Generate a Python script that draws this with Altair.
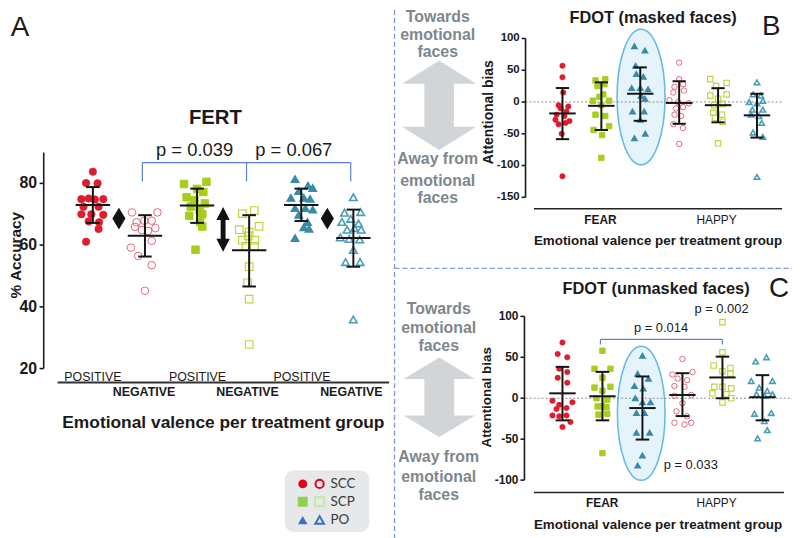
import altair as alt
import pandas as pd

# ------------------------------------------------------------------ data
# group keys: f = filled marker (POSITIVE / FEAR), o = open marker (NEGATIVE / HAPPY)
KINDS = ["SCC_f", "SCC_o", "SCP_f", "SCP_o", "PO_f", "PO_o"]
ORDER_A = ["SCC_f", "SCC_o", "SCP_f", "SCP_o", "PO_f", "PO_o"]
ORDER_BC = ["SCC_f", "SCP_f", "PO_f", "SCC_o", "SCP_o", "PO_o"]

# Panel A  FERT  (% accuracy)   -> (jitter, value)
A_SCC_F = [(0.00, 83.8), (-0.13, 80.1), (0.09, 80.0), (-0.22, 74.9), (-0.08, 75.1), (0.04, 74.8),
           (0.20, 74.9), (-0.18, 72.4), (0.11, 72.4), (-0.22, 70.0), (-0.03, 70.0), (0.20, 69.8),
           (-0.08, 67.7), (0.12, 67.4), (0.11, 65.2), (-0.13, 61.1)]
A_SCC_O = [(-0.25, 70.6), (0.24, 70.6), (-0.16, 67.4), (-0.01, 67.9), (0.13, 67.9), (-0.19, 65.9),
           (-0.06, 64.9), (0.06, 64.6), (0.20, 65.5), (-0.27, 59.2), (0.13, 61.4), (-0.13, 56.5),
           (0.13, 53.5), (0.00, 45.2)]
A_SCP_F = [(-0.25, 79.8), (0.18, 80.5), (0.00, 78.2), (0.12, 77.2), (-0.20, 75.5), (-0.05, 74.5),
           (0.15, 73.5), (-0.12, 72.5), (0.05, 71.5), (0.10, 70.0), (-0.15, 69.5), (0.06, 67.5),
           (0.10, 66.0), (-0.03, 58.5)]
A_SCP_O = [(-0.13, 70.2), (0.10, 71.2), (-0.19, 65.0), (0.00, 64.2), (0.19, 66.1), (-0.13, 61.6),
           (0.11, 61.6), (-0.06, 59.6), (0.10, 59.6), (-0.02, 63.0), (0.00, 53.0), (-0.03, 47.8),
           (0.00, 42.5), (0.00, 27.8)]
A_PO_F = [(-0.12, 81.4), (0.13, 79.3), (0.22, 78.5), (-0.05, 77.5), (-0.20, 75.3), (0.05, 75.3),
          (0.17, 75.0), (-0.12, 72.0), (0.08, 72.0), (0.22, 71.5), (-0.05, 69.8), (0.12, 67.5),
          (0.05, 65.8), (0.15, 65.3), (-0.12, 62.3)]
A_PO_O = [(0.00, 75.5), (-0.17, 70.5), (0.14, 70.7), (-0.05, 68.5), (-0.22, 67.5), (0.10, 67.0),
          (-0.12, 65.0), (0.02, 65.5), (0.15, 65.0), (-0.25, 62.5), (-0.08, 62.0), (0.12, 61.8),
          (0.00, 58.4), (-0.15, 54.5), (0.13, 54.5), (0.00, 35.9)]
A_MEAN = [73.0, 63.0, 72.8, 58.3, 73.0, 62.3]
A_HI = [78.8, 69.7, 78.3, 69.7, 78.3, 71.5]
A_LO = [67.2, 56.3, 67.2, 46.6, 67.8, 53.0]
A_TICKS = [20, 40, 60, 80]

# Panel B  FDOT masked (attentional bias)
B_SCC_F = [(0.00, 57), (0.00, 39), (0.02, 15), (-0.10, -5), (0.15, -7), (-0.05, -10), (0.10, -15),
           (-0.15, -20), (0.05, -22), (-0.18, -28), (0.18, -30), (-0.10, -35), (0.08, -33),
           (-0.02, -50), (0.00, -117)]
B_SCP_F = [(-0.15, 34), (0.10, 36), (-0.10, 25), (0.08, 28), (0.05, 12), (-0.05, 8), (-0.22, 2),
           (0.20, 2), (0.00, -5), (-0.15, -20), (0.10, -22), (0.20, -38), (-0.20, -44), (0.02, -52),
           (0.00, -88)]
B_PO_F = [(-0.15, 88), (0.12, 81), (-0.12, 57), (-0.10, 44), (0.08, 40), (-0.22, 22), (0.00, 22),
          (0.20, 20), (0.02, 10), (0.12, 5), (-0.20, -15), (0.10, -15), (0.00, -28), (-0.15, -57),
          (0.13, -50)]
B_SCC_O = [(0.00, 62), (0.00, 36), (-0.12, 24), (0.10, 28), (-0.15, 15), (0.12, 18), (-0.25, 3),
           (-0.03, 0), (0.25, -2), (-0.08, -10), (0.10, -8), (-0.12, -20), (0.05, -22), (-0.15, -35),
           (0.10, -41), (0.00, -66)]
B_SCP_O = [(-0.20, 36), (0.22, 30), (-0.05, 25), (-0.20, 10), (0.22, 12), (0.00, 5), (-0.10, -5),
           (0.12, -3), (-0.12, -17), (0.10, -20), (-0.08, -25), (0.12, -31), (0.00, -65)]
B_PO_O = [(0.00, 31), (-0.10, 12), (0.10, 10), (-0.20, 0), (0.15, 2), (0.00, -2), (-0.12, -12),
          (0.15, -12), (-0.15, -20), (0.05, -22), (0.12, -33), (-0.10, -48), (0.15, -55), (0.00, -118)]
B_MEAN = [-18, -6, 13, -1.5, -5, -21]
B_HI = [22, 31, 54.5, 32.7, 21.8, 13]
B_LO = [-58.5, -44, -29.6, -34.3, -32, -56]
B_TICKS = [100, 50, 0, -50, -100, -150]

# Panel C  FDOT unmasked (attentional bias)
C_SCC_F = [(0.00, 68), (-0.12, 54), (0.12, 50), (-0.08, 36), (0.12, 32), (-0.12, 25), (0.12, 19),
           (-0.25, -3), (-0.08, -8), (0.25, -5), (-0.15, -13), (0.10, -12), (-0.25, -21), (-0.08, -22),
           (0.10, -21), (0.20, -29), (0.00, -35)]
C_SCP_F = [(0.00, 58), (-0.20, 36), (0.20, 36), (0.00, 25), (-0.20, 13), (0.20, 14), (0.00, 9),
           (-0.15, 0), (0.12, -2), (-0.12, -10), (0.10, -11), (0.00, -10), (-0.10, -20), (0.12, -19),
           (0.00, -67)]
C_PO_F = [(0.00, 52), (-0.12, 30), (0.15, 24), (-0.20, 15), (0.02, 12), (-0.18, 0), (0.00, -5),
          (0.20, -5), (-0.15, -18), (0.05, -18), (-0.15, -42), (0.18, -42), (0.00, -70), (-0.12, -82)]
C_SCC_O = [(0.00, 48), (-0.25, 29), (0.25, 32), (-0.12, 24), (0.12, 22), (-0.20, 15), (0.05, 14),
           (0.22, 4), (-0.20, 3), (0.00, -6), (-0.15, -16), (0.12, -22), (-0.20, -30), (0.05, -32),
           (0.22, -30)]
C_SCP_O = [(0.00, 93), (0.00, 56), (-0.22, 40), (0.20, 37), (0.00, 33), (0.20, 30), (-0.20, 14),
           (0.00, 14), (0.22, 12), (-0.25, 6), (0.10, 5), (0.22, 0), (0.00, -5)]
C_PO_O = [(-0.17, 45), (0.10, 50), (-0.28, 21), (0.25, 21), (-0.08, 13), (0.12, 9), (-0.15, 5),
          (0.05, 3), (0.25, 5), (-0.20, -19), (0.22, -18), (0.05, -28), (0.12, -39), (-0.12, -49)]
C_MEAN = [6, 2.4, -12, 4, 25.4, 1.2]
C_HI = [38.3, 32.2, 26.6, 30.6, 50.8, 28.2]
C_LO = [-27, -27, -50.5, -21.8, 0, -27]
C_TICKS = [100, 50, 0, -50, -100]

# ------------------------------------------------------------------ layout / style
OFF = 8
FONT = "Liberation Sans"
INK = "#1a1a1a"
GEOM = {  # (domain0, domain1, range0, range1) in chart pixels
    "A": {"x": (-1, 6, 33.0, 400.5), "y": (20, 90, 361.3, 143.6)},
    "B": {"x": (-1, 6, 519.5, 793.9), "y": (-150, 100, 188.7, 28.7)},
    "C": {"x": (-1, 6, 518.4, 800.5), "y": (-100, 100, 473.7, 308.7)},
}

SHAPE = {"SCC_f": "circle", "SCC_o": "circle", "SCP_f": "square", "SCP_o": "square",
         "PO_f": "triangle-up", "PO_o": "triangle-up"}
FILL = {"SCC_f": "#dd1c2c", "SCC_o": "transparent", "SCP_f": "#a7cd1d", "SCP_o": "transparent",
        "PO_f": "#3a8ba5", "PO_o": "transparent"}
STROKE = {"SCC_f": "#dd1c2c", "SCC_o": "#d8304b", "SCP_f": "#a7cd1d", "SCP_o": "#bcd63c",
          "PO_f": "#3a8ba5", "PO_o": "#4a9db8"}
SW = {"SCC_f": 0.5, "SCC_o": 1.6, "SCP_f": 0.5, "SCP_o": 1.6, "PO_f": 0.5, "PO_o": 1.6}


def sc(p, ch):
    d0, d1, r0, r1 = GEOM[p][ch]
    return alt.Scale(domain=[d0, d1], range=[r0, r1], nice=False, zero=False)


def X(p, f):
    return alt.X(f"{f}:Q", scale=sc(p, "x"), axis=None)


def Y(p, f):
    return alt.Y(f"{f}:Q", scale=sc(p, "y"), axis=None)


def one(**kw):
    return pd.DataFrame({k: [v] for k, v in kw.items()})


def points(p, order, groups, sizes):
    rows = []
    for gi, (kind, pts) in enumerate(zip(order, groups)):
        for dx, v in pts:
            rows.append({"x": gi + dx, "v": v, "kind": kind})
    df = pd.DataFrame(rows)
    return alt.Chart(df).mark_point(filled=True, opacity=1, fillOpacity=1).encode(
        x=X(p, "x"), y=Y(p, "v"),
        shape=alt.Shape("kind:N", scale=alt.Scale(domain=KINDS, range=[SHAPE[k] for k in KINDS]), legend=None),
        fill=alt.Fill("kind:N", scale=alt.Scale(domain=KINDS, range=[FILL[k] for k in KINDS]), legend=None),
        stroke=alt.Stroke("kind:N", scale=alt.Scale(domain=KINDS, range=[STROKE[k] for k in KINDS]), legend=None),
        strokeWidth=alt.StrokeWidth("kind:N", scale=alt.Scale(domain=KINDS, range=[SW[k] for k in KINDS]), legend=None),
        size=alt.Size("kind:N", scale=alt.Scale(domain=KINDS, range=[sizes[SHAPE[k]] for k in KINDS]), legend=None),
    )


def errbars(p, mean, lo, hi, hm, hc):
    df = pd.DataFrame({"g": list(range(6)), "m": mean, "lo": lo, "hi": hi})
    base = alt.Chart(df).transform_calculate(
        ml=f"datum.g - {hm}", mr=f"datum.g + {hm}", cl=f"datum.g - {hc}", cr=f"datum.g + {hc}")
    st = dict(color="#141414", strokeWidth=2)
    return [
        base.mark_rule(**st).encode(x=X(p, "g"), y=Y(p, "lo"), y2="hi"),
        base.mark_rule(**st).encode(x=X(p, "ml"), x2="mr", y=Y(p, "m")),
        base.mark_rule(**st).encode(x=X(p, "cl"), x2="cr", y=Y(p, "hi")),
        base.mark_rule(**st).encode(x=X(p, "cl"), x2="cr", y=Y(p, "lo")),
    ]


def yaxis(p, ax, ticks, tl, fs, dx):
    d0, d1 = GEOM[p]["y"][:2]
    tdf = pd.DataFrame({"t": ticks, "lab": [str(t) for t in ticks], "x0": [ax - tl] * len(ticks),
                        "x1": [ax] * len(ticks)})
    return [
        alt.Chart(one(x=ax, y0=d0, y1=d1)).mark_rule(color=INK, strokeWidth=1.6).encode(
            x=X(p, "x"), y=Y(p, "y0"), y2="y1"),
        alt.Chart(tdf).mark_rule(color=INK, strokeWidth=1.6).encode(x=X(p, "x0"), x2="x1", y=Y(p, "t")),
        alt.Chart(tdf).mark_text(align="right", baseline="middle", dx=dx, fontSize=fs, fontWeight="bold",
                                 font=FONT, color=INK).encode(x=X(p, "x0"), y=Y(p, "t"), text="lab:N"),
    ]


def glyph(p, gx, gy, path, size, fill, stroke=None, sw=0):
    kw = dict(shape=path, size=size, filled=True, fill=fill, opacity=1, fillOpacity=1)
    if stroke:
        kw.update(stroke=stroke, strokeWidth=sw)
    else:
        kw.update(strokeWidth=0)
    return alt.Chart(one(x=gx, y=gy)).mark_point(**kw).encode(x=X(p, "x"), y=Y(p, "y"))


def label(text, px, py, size, weight="normal", color=INK, align="center", angle=0, font=FONT,
          baseline="alphabetic"):
    kw = dict(align=align, baseline=baseline, fontSize=size, fontWeight=weight, color=color, font=font)
    if angle:
        kw["angle"] = angle
    return alt.Chart(one(t=text)).mark_text(**kw).encode(
        x=alt.value(px - OFF), y=alt.value(py - OFF), text="t:N")


def hline(x0, x1, y, color, width, dash=None):
    kw = dict(color=color, strokeWidth=width)
    if dash:
        kw["strokeDash"] = dash
    return alt.Chart(one(a=0)).mark_rule(**kw).encode(
        x=alt.value(x0 - OFF), x2=alt.value(x1 - OFF), y=alt.value(y - OFF))


def vline(x, y0, y1, color, width, dash=None):
    kw = dict(color=color, strokeWidth=width)
    if dash:
        kw["strokeDash"] = dash
    return alt.Chart(one(a=0)).mark_rule(**kw).encode(
        x=alt.value(x - OFF), y=alt.value(y0 - OFF), y2=alt.value(y1 - OFF))


def ellipse_path(a, k=0.5523):
    ak = a * k
    return (f"M 0 -1 C {ak:.4f} -1 {a:.4f} -{k} {a:.4f} 0 C {a:.4f} {k} {ak:.4f} 1 0 1 "
            f"C -{ak:.4f} 1 -{a:.4f} {k} -{a:.4f} 0 C -{a:.4f} -{k} -{ak:.4f} -1 0 -1 Z")


def darrow_path(hw, sw, hb):
    return (f"M 0 -1 L {hw} -{hb} L {sw} -{hb} L {sw} {hb} L {hw} {hb} L 0 1 L -{hw} {hb} "
            f"L -{sw} {hb} L -{sw} -{hb} L -{hw} -{hb} Z")


DIAMOND = "M 0 -1 L 0.6 0 L 0 1 L -0.6 0 Z"
GRAY_TXT = "#7d878d"
ARROW_GRAY = "#d2d5d8"
BRACKET = "#5c7fd6"

layers = []

# ---------------- dividers
layers.append(vline(397.5, 0, 540, "#7f9bd8", 1.3, [5, 3]))
layers.append(hline(397.5, 800, 268.3, "#7f9bd8", 1.3, [5, 3]))

# ---------------- Panel A
layers += yaxis("A", -0.943, A_TICKS, 0.08, 16, -2.5)
layers += [points("A", ORDER_A, [A_SCC_F, A_SCC_O, A_SCP_F, A_SCP_O, A_PO_F, A_PO_O],
                  {"circle": 58, "square": 50, "triangle-up": 62})]
layers += errbars("A", A_MEAN, A_LO, A_HI, 0.33, 0.13)
layers.append(alt.Chart(pd.DataFrame({"x": [0.5, 4.5], "y": [68.6, 68.6]})).mark_point(
    shape=DIAMOND, size=484, filled=True, fill="#111111", opacity=1, strokeWidth=0).encode(
    x=X("A", "x"), y=Y("A", "y")))
layers.append(glyph("A", 2.5, 65.1, darrow_path(0.3, 0.11, 0.42), 2025, "#111111"))
layers.append(alt.Chart(one(x0=0.95, x1=4.95, y=86.7)).mark_rule(color=BRACKET, strokeWidth=1.2).encode(
    x=X("A", "x0"), x2="x1", y=Y("A", "y")))
layers.append(alt.Chart(pd.DataFrame({"x": [0.95, 2.95, 4.95], "y0": [86.7] * 3, "y1": [80.6] * 3}))
              .mark_rule(color=BRACKET, strokeWidth=1.2).encode(x=X("A", "x"), y=Y("A", "y0"), y2="y1"))
layers.append(hline(58, 392, 383.3, "#333333", 2))

layers += [
    label("A", 20, 34, 28),
    label("FERT", 217, 123, 20.5, "bold"),
    label("p = 0.039", 196, 155, 18.5),
    label("p = 0.067", 296, 155, 18.5),
    label("% Accuracy", 21, 255, 15.5, "bold", angle=270),
    label("Emotional valence per treatment group", 225, 429.5, 17.5, "bold"),
]
for cx in (93.5, 199, 304.3):
    layers.append(label("POSITIVE", cx, 382, 12.5))
for cx in (145, 249.3, 354):
    layers.append(label("NEGATIVE", cx, 397, 12.5, "bold"))

# legend
layers.append(alt.Chart(one(a=0)).mark_rect(cornerRadius=9, color="#e6e8ea").encode(
    x=alt.value(287 - OFF), x2=alt.value(372 - OFF), y=alt.value(472 - OFF), y2=alt.value(534 - OFF)))
LEG = [("SCC", 485.5, "circle", "#e3001b", 80), ("SCP", 503.5, "square", "#92d050", 100),
       ("PO", 522, "triangle-up", "#3f6cc6", 90)]
LEG_OPEN = {"SCC": "#e3001b", "SCP": "#c9e6a4", "PO": "#3f6cc6"}
for name, ry, shp, col, sz in LEG:
    layers.append(alt.Chart(one(a=0)).mark_point(shape=shp, size=sz, filled=True, fill=col, opacity=1,
                                                 strokeWidth=0).encode(x=alt.value(305 - OFF), y=alt.value(ry - OFF)))
    layers.append(alt.Chart(one(a=0)).mark_point(shape=shp, size=sz * 0.85, filled=False, stroke=LEG_OPEN[name],
                                                 strokeWidth=2, opacity=1).encode(x=alt.value(322 - OFF), y=alt.value(ry - OFF)))
    layers.append(label(name, 333, ry, 13.5, color="#3a3a3a", align="left", font="Lato", baseline="middle"))

# ---------------- Panel B
layers.append(glyph("B", 2.02, 7.8, ellipse_path(0.354), 18660, "#e5f4fb", "#66bbe6", 1.6))
layers.append(alt.Chart(one(x0=-0.95, x1=5.65, y=0)).mark_rule(color="#8a8a8a", strokeWidth=1, strokeDash=[2, 2]).encode(
    x=X("B", "x0"), x2="x1", y=Y("B", "y")))
layers += yaxis("B", -0.949, B_TICKS, 0.1, 11.5, -2)
layers += [points("B", ORDER_BC, [B_SCC_F, B_SCP_F, B_PO_F, B_SCC_O, B_SCP_O, B_PO_O],
                  {"circle": 30, "square": 30, "triangle-up": 36})]
layers += errbars("B", B_MEAN, B_LO, B_HI, 0.34, 0.17)
layers.append(glyph("B", -3.17, -5.1, darrow_path(0.83, 0.33, 0.48), 8100, ARROW_GRAY))
layers.append(hline(538, 788, 208.3, "#222222", 1.5))
layers += [
    label("FDOT (masked faces)", 658, 21, 16.5, "bold"),
    label("B", 777, 33, 28),
    label("Attentional bias", 497, 111, 14, "bold", angle=270),
    label("FEAR", 605, 223.3, 12, "bold"),
    label("HAPPY", 722, 223.3, 12),
    label("Emotional valence per treatment group", 663, 245, 13.5, "bold"),
]
for t, yy in [("Towards", 20.5), ("emotional", 38.5), ("faces", 55.5), ("Away from", 163),
              ("emotional", 185), ("faces", 202.7)]:
    layers.append(label(t, 441, yy, 16, "bold", color=GRAY_TXT))

# ---------------- Panel C
layers.append(glyph("C", 1.97, -18.4, ellipse_path(0.356), 18225, "#e5f4fb", "#66bbe6", 1.6))
layers.append(alt.Chart(one(x0=-0.92, x1=5.85, y=0)).mark_rule(color="#8a8a8a", strokeWidth=1, strokeDash=[2, 2]).encode(
    x=X("C", "x0"), x2="x1", y=Y("C", "y")))
layers += yaxis("C", -0.95, C_TICKS, 0.1, 12, -2)
layers += [points("C", ORDER_BC, [C_SCC_F, C_SCP_F, C_PO_F, C_SCC_O, C_SCP_O, C_PO_O],
                  {"circle": 30, "square": 30, "triangle-up": 36})]
layers += errbars("C", C_MEAN, C_LO, C_HI, 0.33, 0.17)
layers.append(glyph("C", -3.08, 1.2, darrow_path(0.9, 0.375, 0.46), 6400, ARROW_GRAY))
layers.append(alt.Chart(one(x0=0.95, x1=4.0, y=71.8)).mark_rule(color=BRACKET, strokeWidth=1.2).encode(
    x=X("C", "x0"), x2="x1", y=Y("C", "y")))
layers.append(alt.Chart(pd.DataFrame({"x": [0.95, 4.0], "y0": [71.8] * 2, "y1": [65.7] * 2}))
              .mark_rule(color=BRACKET, strokeWidth=1.2).encode(x=X("C", "x"), y=Y("C", "y0"), y2="y1"))
layers.append(hline(538, 790, 494.3, "#222222", 1.5))
layers += [
    label("FDOT (unmasked faces)", 661, 294.3, 16.5, "bold"),
    label("C", 785, 297.3, 28),
    label("Attentional bias", 495, 398.3, 13.5, "bold", angle=270),
    label("FEAR", 606.7, 508.3, 12, "bold"),
    label("HAPPY", 722, 508.3, 12),
    label("Emotional valence per treatment group", 663, 531, 13.5, "bold"),
    label("p = 0.014", 666, 332.7, 13),
    label("p = 0.002", 727, 313.3, 13),
    label("p = 0.033", 696, 471, 13),
]
for t, yy in [("Towards", 314), ("emotional", 333.3), ("faces", 351.7), ("Away from", 463.3),
              ("emotional", 483.3), ("faces", 501.7)]:
    layers.append(label(t, 442, yy, 16, "bold", color=GRAY_TXT))

chart = alt.layer(*layers).resolve_scale(
    x="independent", y="independent", shape="independent", fill="independent",
    stroke="independent", strokeWidth="independent", size="independent",
).properties(
    width=790, height=530, padding=0, autosize="none", background="white"
).configure_view(stroke=None)

chart.save("out.html", embed_options={"renderer": "svg", "actions": False})
